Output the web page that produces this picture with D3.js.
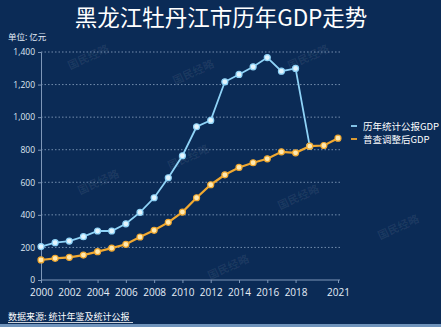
<!DOCTYPE html>
<html><head><meta charset="utf-8">
<script src="https://cdn.jsdelivr.net/npm/d3@7"></script>
<style>
html,body{margin:0;padding:0;background:#0b2b56;}
svg{display:block;}
</style></head>
<body>
<svg id="c" width="441" height="327"></svg>
<script>
const years = d3.range(2000, 2022);
const xTicks = [2000,2002,2004,2006,2008,2010,2012,2014,2016,2018,2021];
const yTicks = [0,200,400,600,800,1000,1200,1400];
const reportedYears = d3.range(2000, 2020);
const reportedGDP = [205,229,239,266,301,301,345,415,505,628,763,941,980,1217,1262,1309,1366,1282,1299,822];
const adjustedGDP = [123,133,139,153,174,196,219,264,305,354,417,505,585,646,691,720,744,787,781,822,826,871];
const seriesNames = ["历年统计公报GDP","普查调整后GDP"];

const svg = d3.select("#c");
const W = 441, H = 327;
svg.append("rect").attr("width",W).attr("height",H).attr("fill","#0b2b56");

const x = d3.scaleLinear().domain([2000,2021]).range([41,338]);
const y = d3.scaleLinear().domain([0,1400]).range([280,52]);

// title
svg.append("text").attr("x",221).attr("y",25.5).attr("text-anchor","middle")
  .attr("fill","#ffffff").attr("font-family","Noto Sans CJK SC").attr("font-size",22.5)
  .text("黑龙江牡丹江市历年GDP走势");
svg.append("text").attr("x",8).attr("y",40).attr("fill","#e6eef8")
  .attr("font-family","Noto Sans CJK SC").attr("font-size",8.5).text("单位: 亿元");

// watermarks
const wm = [[70,70],[175,85],[290,70],[80,195],[170,170],[280,210],[380,240],[210,280]];
wm.forEach(([wx,wy])=>{
  svg.append("text").attr("transform",`translate(${wx},${wy}) rotate(-25)`)
    .attr("fill","#ffffff").attr("fill-opacity",0.07).attr("font-family","Noto Sans CJK SC")
    .attr("font-size",11).attr("font-weight","bold").text("国民经略");
});

// grid
const grid = svg.append("g");
grid.selectAll("line").data(yTicks.filter(d=>d>0)).join("line")
  .attr("x1",41).attr("x2",340).attr("y1",d=>y(d)).attr("y2",d=>y(d))
  .attr("stroke","#9fb6d3").attr("stroke-opacity",0.7).attr("stroke-width",1).attr("stroke-dasharray","1.5,2");

// y axis
const ya = svg.append("g").attr("transform","translate(41,0)")
  .call(d3.axisLeft(y).tickValues(yTicks).tickFormat(d3.format(",")).tickSize(3).tickPadding(3));
ya.select(".domain").attr("stroke","#7e97b8");
ya.selectAll(".tick line").attr("stroke","#7e97b8");
ya.selectAll("text").attr("fill","#dfe8f3").attr("font-family","Open Sans").attr("font-size",8.5);

// x axis
const xa = svg.append("g").attr("transform","translate(0,280)")
  .call(d3.axisBottom(x).tickValues(xTicks).tickFormat(d3.format("d")).tickSize(3).tickPadding(5.5));
xa.select(".domain").attr("stroke","#7e97b8").attr("d","M41,0H340");
xa.selectAll(".tick line").attr("stroke","#7e97b8");
xa.selectAll("text").attr("fill","#e6eef8").attr("font-family","Open Sans").attr("font-size",10);

// lines
const line = d3.line().x(d=>x(d[0])).y(d=>y(d[1]));
const repData = reportedYears.map((yr,i)=>[yr,reportedGDP[i]]);
const adjData = years.map((yr,i)=>[yr,adjustedGDP[i]]);
const blue = "#8fd3f7", orange = "#f0a830";
svg.append("path").datum(repData).attr("d",line).attr("fill","none").attr("stroke",blue).attr("stroke-width",1.8);
svg.selectAll(".pb").data(repData).join("circle").attr("cx",d=>x(d[0])).attr("cy",d=>y(d[1])).attr("r",3)
  .attr("fill","#e3f4fd").attr("stroke",blue).attr("stroke-width",1.2);
svg.append("path").datum(adjData).attr("d",line).attr("fill","none").attr("stroke",orange).attr("stroke-width",2.2);
svg.selectAll(".po").data(adjData).join("circle").attr("cx",d=>x(d[0])).attr("cy",d=>y(d[1])).attr("r",3)
  .attr("fill","#ffe9b0").attr("stroke",orange).attr("stroke-width",1.2);

// legend
const lg = svg.append("g");
[blue, orange].forEach((c,i)=>{
  lg.append("line").attr("x1",351).attr("x2",357).attr("y1",126+i*13).attr("y2",126+i*13)
    .attr("stroke",c).attr("stroke-width",1.8);
  lg.append("text").attr("x",363).attr("y",129.5+i*13).attr("fill","#ffffff")
    .attr("font-family","Noto Sans CJK SC").attr("font-size",9.5).text(seriesNames[i]);
});

// source
svg.append("text").attr("x",8).attr("y",320).attr("fill","#ffffff")
  .attr("font-family","Noto Sans CJK SC").attr("font-size",9).text("数据来源: 统计年鉴及统计公报");
svg.append("line").attr("x1",8).attr("x2",133).attr("y1",322.5).attr("y2",322.5).attr("stroke","#ffffff").attr("stroke-width",0.8);
svg.append("rect").attr("x",0).attr("y",324).attr("width",W).attr("height",3).attr("fill","#6f93bb");
</script>
</body></html>
